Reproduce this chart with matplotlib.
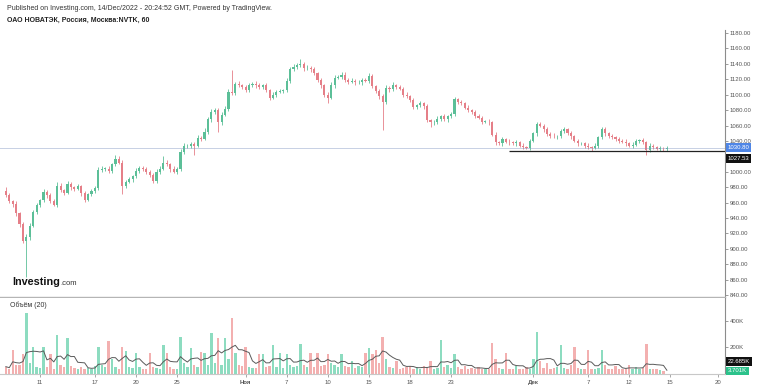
import matplotlib
matplotlib.use('Agg')
import matplotlib.pyplot as plt
import numpy as np
import pandas as pd

plt.rcParams['font.family'] = ['Liberation Sans', 'DejaVu Sans']

TITLE1 = "Published on Investing.com, 14/Dec/2022 - 20:24:52 GMT, Powered by TradingView."
TITLE2 = "ОАО НОВАТЭК, Россия, Москва:NVTK, 60"
VOL_TITLE = "Объём (20)"

first_open = 975
close = [
    970, 962, 958, 946, 932, 910, 915, 930, 948, 957,
    963, 974, 970, 962, 957, 982, 976, 973, 984, 980,
    978, 981, 972, 964, 971, 975, 979, 1002, 1004, 1004,
    1001, 1010, 1017, 1012, 982, 987, 990, 994, 1001, 1005,
    1003, 1000, 996, 988, 1000, 1004, 1012, 1010, 1004, 1000,
    1003, 1026, 1033, 1034, 1036, 1034, 1044, 1043, 1052, 1068,
    1077, 1080, 1064, 1074, 1082, 1104, 1102, 1114, 1112, 1110,
    1106, 1112, 1114, 1112, 1110, 1112, 1106, 1096, 1100, 1104,
    1105, 1106, 1118, 1133, 1136, 1138, 1140, 1134, 1135, 1133,
    1128, 1119, 1112, 1100, 1096, 1112, 1122, 1123, 1126, 1119,
    1117, 1118, 1116, 1116, 1119, 1118, 1124, 1111, 1105, 1098,
    1090, 1109, 1107, 1112, 1110, 1108, 1100, 1098, 1093, 1084,
    1086, 1089, 1085, 1067, 1064, 1064, 1069, 1072, 1068, 1072,
    1075, 1094, 1090, 1089, 1083, 1080, 1077, 1073, 1070, 1065,
    1065, 1064, 1048, 1038, 1037, 1042, 1039, 1038, 1037, 1038,
    1034, 1032, 1031, 1040, 1050, 1062, 1060, 1055, 1049, 1047,
    1046, 1046, 1053, 1055, 1050, 1046, 1040, 1037, 1037, 1034,
    1032, 1031, 1034, 1045, 1055, 1050, 1046, 1045, 1042, 1040,
    1039, 1037, 1034, 1035, 1040, 1041, 1038, 1028, 1034, 1032,
    1030, 1030, 1029, 1030.8,
]
upper_wick = [
    5, 3, 2, 4, 2, 3, 4, 3, 2, 3,
    2, 4, 3, 2, 3, 5, 3, 2, 4, 3,
    2, 3, 2, 3, 2, 3, 2, 4, 3, 2,
    3, 2, 5, 3, 3, 2, 3, 2, 4, 3,
    2, 3, 2, 3, 4, 3, 8, 3, 2, 3,
    3, 3, 4, 2, 3, 2, 4, 3, 5, 3,
    4, 3, 3, 4, 3, 4, 28, 3, 4, 2,
    3, 3, 2, 4, 3, 2, 3, 2, 3, 2,
    3, 2, 4, 3, 4, 3, 6, 2, 3, 2,
    3, 2, 3, 2, 3, 4, 3, 2, 4, 3,
    2, 3, 2, 3, 2, 3, 4, 3, 2, 3,
    3, 3, 2, 4, 2, 3, 2, 3, 2, 3,
    2, 3, 2, 3, 2, 3, 3, 2, 3, 2,
    3, 3, 2, 3, 2, 3, 2, 3, 2, 3,
    2, 3, 2, 3, 2, 3, 2, 3, 2, 3,
    2, 3, 2, 3, 2, 3, 3, 2, 3, 2,
    3, 2, 3, 3, 2, 3, 2, 3, 2, 2,
    3, 2, 3, 2, 3, 3, 2, 3, 2, 3,
    2, 3, 2, 3, 3, 2, 3, 2, 3, 2,
    2, 3, 2, 2,
]
lower_wick = [
    3, 2, 4, 3, 4, 3, 47, 3, 2, 3,
    3, 2, 4, 3, 2, 3, 2, 3, 2, 3,
    3, 2, 4, 3, 2, 3, 2, 3, 2, 3,
    3, 2, 3, 2, 11, 3, 2, 3, 2, 3,
    2, 3, 3, 3, 2, 3, 2, 3, 4, 2,
    3, 2, 3, 2, 3, 12, 2, 3, 2, 3,
    3, 2, 12, 3, 2, 3, 2, 3, 2, 3,
    2, 3, 2, 3, 2, 3, 2, 3, 2, 3,
    2, 3, 2, 3, 2, 3, 2, 3, 2, 3,
    3, 2, 3, 3, 7, 2, 3, 2, 3, 2,
    3, 2, 3, 2, 3, 2, 3, 2, 3, 3,
    36, 2, 3, 2, 3, 2, 3, 2, 3, 2,
    3, 2, 3, 2, 6, 3, 2, 3, 2, 3,
    2, 3, 2, 3, 2, 3, 2, 3, 2, 3,
    2, 3, 2, 3, 2, 3, 2, 3, 2, 3,
    2, 3, 2, 3, 2, 3, 2, 3, 2, 3,
    2, 3, 2, 3, 2, 3, 2, 3, 2, 3,
    2, 4, 2, 3, 2, 3, 2, 3, 2, 3,
    2, 3, 2, 3, 2, 3, 2, 6, 2, 3,
    2, 3, 2, 2,
]
volume_k = [
    55, 40, 180, 65, 70, 150, 460, 80, 200, 55,
    45, 200, 55, 150, 40, 296, 65, 55, 267, 60,
    45, 35, 55, 40, 45, 35, 60, 200, 70, 55,
    244, 110, 55, 40, 200, 170, 55, 45, 160, 55,
    40, 35, 160, 55, 45, 40, 215, 160, 55, 35,
    40, 274, 80, 55, 193, 65, 55, 165, 155, 70,
    311, 80, 267, 65, 267, 110, 422, 160, 70, 60,
    200, 55, 45, 45, 150, 150, 55, 60, 215, 55,
    160, 45, 150, 70, 55, 60, 222, 65, 55, 160,
    55, 160, 60, 70, 150, 80, 65, 55, 150, 60,
    55, 100, 45, 60, 55, 160, 193, 150, 180, 80,
    274, 110, 55, 45, 100, 40, 45, 55, 60, 35,
    50, 40, 60, 45, 100, 40, 45, 252, 55, 70,
    45, 150, 55, 40, 60, 35, 45, 40, 55, 35,
    40, 35, 230, 110, 45, 40, 160, 35, 40, 60,
    35, 40, 55, 40, 110, 318, 100, 45, 80, 40,
    45, 55, 215, 45, 40, 70, 200, 45, 35, 40,
    178, 35, 40, 45, 178, 70, 40, 35, 60, 40,
    35, 40, 65, 35, 55, 40, 45, 222, 35, 40,
    35, 30, 25, 3.701,
]

date_tick_pos = [10, 26, 38, 50, 70, 82, 94, 106, 118, 130, 154, 170, 182, 194, 208]
date_tick_labels = ['11', '17', '20', '25', 'Ноя', '7', '10', '15', '18', '23', 'Дек', '7', '12', '15', '20']
month_labels = ['Ноя', 'Дек']
price_ticks = list(range(840, 1181, 20))
hidden_price_ticks = [1020]   # covered by the price labels in the reference
vol_ticks = [200, 400]
last_price = 1030.80
level_price = 1027.53
level_start = 147
vol_ma_label = '22.685K'
last_vol_label = '3.701K'

UP = '#5cbf98'
DOWN = '#e57f88'
VUP = '#8ddcc0'
VDOWN = '#f3b0b0'

c = np.array(close, dtype=float)
o = np.concatenate([[first_open], c[:-1]])
hi = np.maximum(o, c) + np.array(upper_wick)
lo = np.minimum(o, c) - np.array(lower_wick)
x = np.arange(len(c))
up = c >= o

W, H = 758, 390
fig = plt.figure(figsize=(W / 100, H / 100), dpi=100)
axp = fig.add_axes([0, (H - 297) / H, 725 / W, (297 - 30) / H])
axv = fig.add_axes([0, (H - 374) / H, 725 / W, (374 - 298) / H])

xl = (-1.708, 209.97)
for ax in (axp, axv):
    ax.set_xlim(*xl)
    ax.spines['top'].set_visible(False)
    ax.spines['left'].set_visible(False)
    ax.spines['right'].set_color('#8c8c8c')
    ax.spines['right'].set_linewidth(0.8)
    ax.yaxis.tick_right()
    ax.tick_params(axis='y', direction='out', length=2, width=0.6, color='#8c8c8c',
                   labelsize=4.3, labelcolor='#555555', pad=1.5)

# price pane
cols = np.where(up, UP, DOWN)
axp.vlines(x, lo, hi, colors=cols, linewidth=0.6)
body_h = np.maximum(np.abs(c - o), 0.7)
axp.bar(x, body_h, bottom=np.minimum(o, c), width=0.62, color=cols, linewidth=0)
axp.set_ylim(837.6, 1183.9)
axp.set_yticks(price_ticks)
axp.set_yticklabels(['' if p in hidden_price_ticks else f'{p:.2f}' for p in price_ticks])
axp.set_xticks([])
axp.spines['bottom'].set_color('#b5b5b5')
axp.spines['bottom'].set_linewidth(1.0)
axp.axhline(last_price, color='#7d93c0', linewidth=0.6, linestyle=(0, (1.2, 1.2)))
axp.hlines(level_price, level_start, xl[1], color='#222222', linewidth=0.9)

axp.annotate(f'{last_price:.2f}', xy=(1, last_price), xycoords=('axes fraction', 'data'),
             xytext=(2, 0.5), textcoords='offset points', ha='left', va='center',
             fontsize=4.3, color='white', annotation_clip=False,
             bbox=dict(boxstyle='square,pad=0.28', fc='#4f86e6', ec='none'))
axp.annotate(f'{level_price:.2f}', xy=(1, level_price), xycoords=('axes fraction', 'data'),
             xytext=(2, -5.6), textcoords='offset points', ha='left', va='center',
             fontsize=4.3, color='white', annotation_clip=False,
             bbox=dict(boxstyle='square,pad=0.28', fc='#111111', ec='none'))

# volume pane
v = np.array(volume_k, dtype=float)
vcols = np.where(up, VUP, VDOWN)
axv.bar(x, v, width=0.7, color=vcols, linewidth=0)
ma = pd.Series(v).rolling(6, min_periods=1).mean()
axv.plot(x, ma, color='#5a5a5a', linewidth=0.7)
axv.set_ylim(0, 570)
axv.set_yticks(vol_ticks)
axv.set_yticklabels([f'{t}K' for t in vol_ticks])
axv.spines['bottom'].set_color('#c8c8c8')
axv.spines['bottom'].set_linewidth(0.8)
axv.set_xticks(date_tick_pos)
axv.set_xticklabels(date_tick_labels)
axv.tick_params(axis='x', direction='out', length=2, width=0.6, color='#9a9a9a',
                labelsize=4.3, labelcolor='#555555', pad=2)
for t in axv.get_xticklabels():
    if t.get_text() in month_labels:
        t.set_fontweight('bold')

axv.annotate(vol_ma_label, xy=(1, 0), xycoords=('axes fraction', 'data'),
             xytext=(2, 9.0), textcoords='offset points', ha='left', va='center',
             fontsize=4.3, color='white', annotation_clip=False,
             bbox=dict(boxstyle='square,pad=0.28', fc='#111111', ec='none'))
axv.annotate(last_vol_label, xy=(1, 0), xycoords=('axes fraction', 'data'),
             xytext=(2, 2.2), textcoords='offset points', ha='left', va='center',
             fontsize=4.3, color='white', annotation_clip=False,
             bbox=dict(boxstyle='square,pad=0.28', fc='#2cc28b', ec='none'))

# texts
fig.text(7 / W, 1 - 8 / H, TITLE1, fontsize=5, color='#333333', ha='left', va='center')
fig.text(7 / W, 1 - 20 / H, TITLE2, fontsize=5, color='#222222', ha='left', va='center',
         fontweight='bold')
fig.text(10 / W, 1 - 305 / H, VOL_TITLE, fontsize=5, color='#333333', ha='left', va='center')
fig.text(12 / W, 1 - 285 / H, 'Investing', fontsize=7.8, color='#111111', ha='left',
         va='baseline', fontweight='bold')
fig.text(60 / W, 1 - 285 / H, '.com', fontsize=5.5, color='#333333', ha='left', va='baseline')

fig.savefig('out.png', dpi=100)
